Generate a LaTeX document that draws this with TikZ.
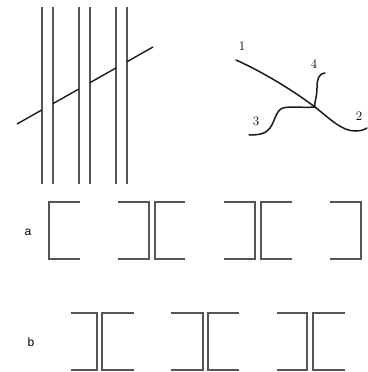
\documentclass[tikz,border=0pt]{standalone}
\usepackage{fontspec}
\setsansfont{Liberation Sans}
\usetikzlibrary{calc}
\definecolor{fibregray}{HTML}{555555}
\definecolor{inkdark}{HTML}{1A1A1A}

\begin{document}
\begin{tikzpicture}[x=1pt,y=-1pt,
  fibre/.style={draw=fibregray,line width=1.5pt},
  crossline/.style={draw=inkdark,line width=1.4pt},
  strand/.style={draw=inkdark,line width=1.5pt,line cap=round},
  clip bracket/.style={draw=fibregray,line width=1.3pt},
  numlabel/.style={inner sep=0pt,font=\fontsize{13}{15}\selectfont},
  rowlabel/.style={inner sep=0pt,font=\sffamily\fontsize{12}{14}\selectfont}]
\useasboundingbox (0,0) rectangle (367,372);
% parallel fibres cut by a crossing line
\foreach \x in {42,53,79,90,116,127}
  \draw[fibre] (\x,7) -- (\x,184);
\coordinate (d0) at (17,124);
\coordinate (d1) at (153,47);
\foreach \xa/\xb in {17/42,53/79,90/116,127/153}
  \draw[crossline] ($(d0)!{(\xa-17)/136}!(d1)$) -- ($(d0)!{(\xb-17)/136}!(d1)$);
% four strands meeting at one point
\coordinate (j) at (315,107);
\draw[strand] (236,60) .. controls (265,73) and (295,92) .. (j)
  .. controls (330,119) and (342,131) .. (355,131) .. controls (360,131) and (364,130) .. (367,128);
\draw[strand] (325,73) .. controls (318,74) and (317,80) .. (317,88)
  .. controls (317,98) and (314,102) .. (j);
\draw[strand] (j) .. controls (302,108) and (290,106) .. (283,108)
  .. controls (276,110) and (275,121) .. (270,128) .. controls (266,134) and (258,135) .. (249,135);
\node[numlabel] (n1) at (242,46) {1};
\node[numlabel] (n2) at (359,116) {2};
\node[numlabel] (n3) at (256,121) {3};
\node[numlabel] (n4) at (314,64) {4};
% row a
\node[rowlabel] (ra) at (28,232) {a};
\foreach \l/\r in {49/80,155/185,261/292}
  \draw[clip bracket] (\r,202) -| (\l,259) -- (\r,259);
\foreach \l/\r in {118/149,224/255,330/361}
  \draw[clip bracket] (\l,202) -| (\r,259) -- (\l,259);
% row b
\node[rowlabel] (rb) at (31,342) {b};
\foreach \l/\r in {71/97,171/203,277/307}
  \draw[clip bracket] (\l,313) -| (\r,370) -- (\l,370);
\foreach \l/\r in {102/134,208/239,313/345}
  \draw[clip bracket] (\r,313) -| (\l,370) -- (\r,370);
\end{tikzpicture}
\end{document}
